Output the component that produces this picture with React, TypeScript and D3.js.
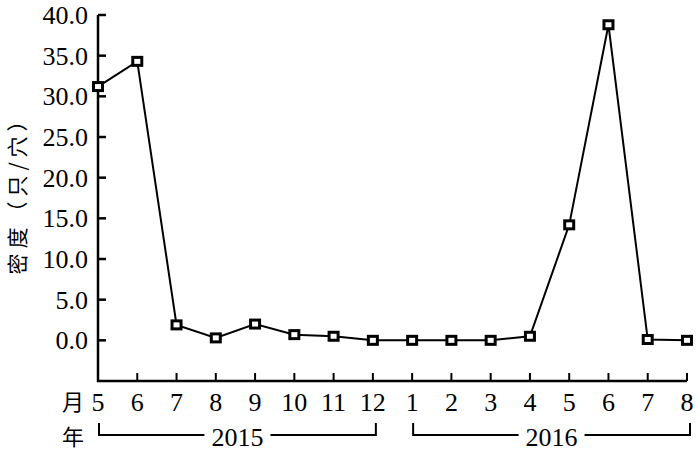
import React from 'react'
import * as d3 from 'd3'

const months = ['5', '6', '7', '8', '9', '10', '11', '12', '1', '2', '3', '4', '5', '6', '7', '8']
const density = [31.2, 34.3, 1.9, 0.3, 2.0, 0.7, 0.5, 0.0, 0.0, 0.0, 0.0, 0.5, 14.2, 38.8, 0.1, 0.0]
const yTicks = [0, 5, 10, 15, 20, 25, 30, 35, 40]
const years = [
  { label: '2015', from: 0, to: 7 },
  { label: '2016', from: 8, to: 15 },
]

const W = 700
const H = 451
const serif = '"Liberation Serif", "Times New Roman", serif'
const cjk = '"Noto Sans CJK SC", sans-serif'

const App = () => {
  const x = d3.scaleLinear().domain([0, months.length - 1]).range([98, 687])
  const y = d3.scaleLinear().domain([-5, 40]).range([381, 15])
  const line = d3.line<number>()
    .x((d, i) => x(i))
    .y(d => y(d))

  return (
    <svg width={W} height={H} style={{ position: 'absolute', left: 0, top: 0, background: '#fff' }}>
      {/* axes */}
      <path d={`M${x(0)},${y(40)}V${y(-5)}H${x(15)}`} fill="none" stroke="#000" strokeWidth={2.5} />
      {yTicks.map(t => (
        <g key={t}>
          <line x1={x(0)} x2={x(0) + 8} y1={y(t)} y2={y(t)} stroke="#000" strokeWidth={2.5} />
          <text x={88} y={y(t)} dy="0.34em" textAnchor="end" fontFamily={serif} fontSize={26}>{t.toFixed(1)}</text>
        </g>
      ))}
      {months.map((m, i) => (
        <g key={i}>
          {i > 0 && <line x1={x(i)} x2={x(i)} y1={y(-5)} y2={y(-5) - 8} stroke="#000" strokeWidth={2} />}
          <text x={x(i)} y={411} textAnchor="middle" fontFamily={serif} fontSize={26}>{m}</text>
        </g>
      ))}
      <text x={73} y={410} textAnchor="middle" fontFamily={cjk} fontSize={22}>月</text>
      <text x={73} y={445} textAnchor="middle" fontFamily={cjk} fontSize={22}>年</text>
      {years.map(yr => {
        const x0 = x(yr.from) + 1
        const x1 = x(yr.to) + 3
        const cx = (x0 + x1) / 2
        return (
          <g key={yr.label}>
            <path d={`M${x0},423V435H${cx - 33}`} fill="none" stroke="#000" strokeWidth={2} />
            <path d={`M${cx + 33},435H${x1}V423`} fill="none" stroke="#000" strokeWidth={2} />
            <text x={cx} y={446} textAnchor="middle" fontFamily={serif} fontSize={26}>{yr.label}</text>
          </g>
        )
      })}
      <text transform="translate(25,190) rotate(-90)" textAnchor="middle" fontFamily={cjk} fontSize={21} letterSpacing={5}>密度（只/穴）</text>
      {/* series */}
      <path d={line(density) || ''} fill="none" stroke="#000" strokeWidth={2} />
      {density.map((d, i) => (
        <rect key={i} x={x(i) - 4.5} y={y(d) - 4} width={9} height={8} fill="#fff" stroke="#000" strokeWidth={3} />
      ))}
    </svg>
  )
}

export default App
